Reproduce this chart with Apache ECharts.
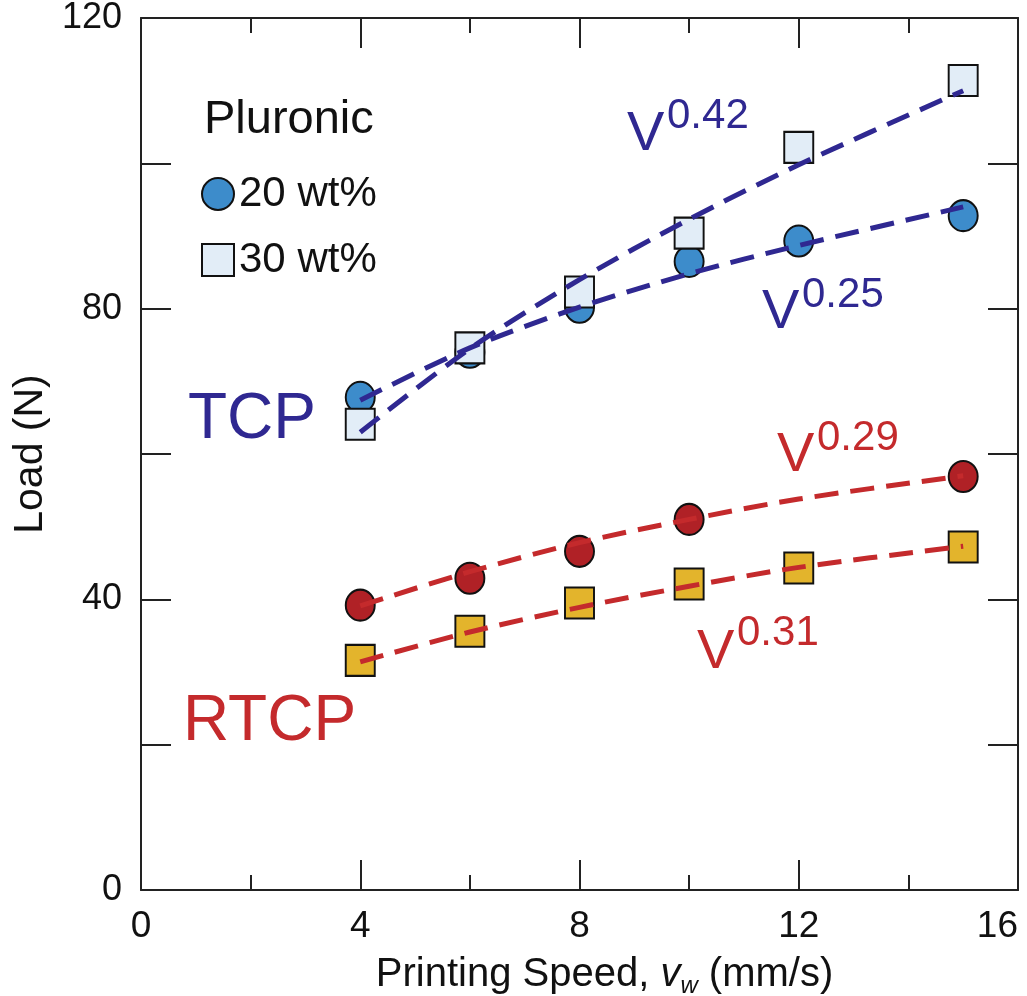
<!DOCTYPE html>
<html><head><meta charset="utf-8">
<script src="https://cdn.jsdelivr.net/npm/echarts@6/dist/echarts.min.js"></script>
<style>html,body{margin:0;padding:0;background:#fff}#c{width:1027px;height:996px}</style>
</head><body><div id="c"></div>
<script>
// ---- data ----
const speeds = [4, 6, 8, 10, 12, 15];
const tcp20 = [67.8, 74.0, 80.2, 86.5, 89.3, 92.8];
const tcp30 = [64.1, 74.6, 82.3, 90.4, 102.2, 111.4];
const rtcp20Speeds = [4, 6, 8, 10, 15];
const rtcp20 = [39.2, 42.9, 46.6, 51.0, 56.9];
const rtcp30 = [31.6, 35.6, 39.5, 42.1, 44.3, 47.2];
// fitted power-law guide lines
const fit042 = [63.0, 74.5, 84.0, 92.3, 99.8, 110.0];
const fit025 = [67.4, 74.6, 80.2, 84.8, 88.7, 94.0];
const fit029 = [39.1, 43.8, 47.8, 51.0, 53.8, 57.0];
const fit031 = [31.4, 35.5, 38.9, 41.8, 44.4, 47.3];
const xTicks = [0, 4, 8, 12, 16];
const yTicks = [0, 40, 80, 120];

const zip = (xs, ys) => xs.map((x, i) => [x, ys[i]]);
const FONT = "'Liberation Sans',Arial,Helvetica,sans-serif";
const BLUE = '#2f2891', RED = '#c42a2c';

const chart = echarts.init(document.getElementById('c'));
const dash = [24, 12];
function fitLine(name, ys, color) {
  return { name, type: 'line', data: zip(speeds, ys), showSymbol: false, smooth: 0.3,
    lineStyle: { color, width: 5, type: dash }, z: 5, silent: true };
}
function scat(name, xs, ys, symbol, fill) {
  return { name, type: 'scatter', data: zip(xs, ys), symbol, symbolSize: [29, 31],
    itemStyle: { color: fill, borderColor: '#111', borderWidth: 2, opacity: 1 }, z: 3 };
}
const axisLineStyle = { color: '#222', width: 2 };
chart.setOption({
  animation: false,
  grid: { left: 141, right: 9, top: 18, bottom: 106, outerBoundsMode: 'none', containLabel: false },
  xAxis: [{
    type: 'value', min: 0, max: 16, interval: 4,
    axisLine: { show: true, lineStyle: axisLineStyle, onZero: false },
    axisTick: { show: true, inside: true, length: 30, lineStyle: axisLineStyle },
    minorTick: { show: true, splitNumber: 2, length: 15, lineStyle: axisLineStyle },
    splitLine: { show: false },
    axisLabel: { margin: 18, fontFamily: FONT, fontSize: 37, color: '#111', alignMaxLabel: 'right',
      formatter: v => xTicks.includes(v) ? String(v) : '' },
    name: '{a|Printing Speed, }{i|v}{s|w}{a| (mm/s)}',
    nameLocation: 'middle', nameGap: 62,
    nameTextStyle: { padding: [0, 0, 0, 50], rich: {
      a: { fontFamily: FONT, fontSize: 40, color: '#111' },
      i: { fontFamily: FONT, fontSize: 40, fontStyle: 'italic', color: '#111' },
      s: { fontFamily: FONT, fontSize: 24, fontStyle: 'italic', color: '#111', padding: [22, 0, 0, 0] }
    } }
  }, {
    type: 'value', min: 0, max: 16, interval: 4, position: 'top',
    axisLine: { show: true, lineStyle: axisLineStyle, onZero: false },
    axisTick: { show: true, inside: true, length: 30, lineStyle: axisLineStyle },
    minorTick: { show: true, splitNumber: 2, length: 15, lineStyle: axisLineStyle },
    splitLine: { show: false }, axisLabel: { show: false }
  }],
  yAxis: [{
    type: 'value', min: 0, max: 120, interval: 20,
    axisLine: { show: true, lineStyle: axisLineStyle, onZero: false },
    axisTick: { show: true, inside: true, length: 30, lineStyle: axisLineStyle },
    splitLine: { show: false },
    axisLabel: { margin: 19, fontFamily: FONT, fontSize: 36, color: '#111',
      formatter: v => yTicks.includes(v) ? String(v) : '' },
    name: 'Load (N)', nameLocation: 'middle', nameGap: 88,
    nameTextStyle: { fontFamily: FONT, fontSize: 41, color: '#111' }
  }, {
    type: 'value', min: 0, max: 120, interval: 20, position: 'right',
    axisLine: { show: true, lineStyle: axisLineStyle, onZero: false },
    axisTick: { show: true, inside: true, length: 30, lineStyle: axisLineStyle },
    splitLine: { show: false }, axisLabel: { show: false }
  }],
  legend: {
    data: ['20 wt%', '30 wt%'], orient: 'vertical', left: 196, top: 168,
    itemWidth: 32, itemHeight: 32, itemGap: 24,
    textStyle: { fontFamily: FONT, fontSize: 42, color: '#111' }
  },
  series: [
    scat('20 wt%', speeds, tcp20, 'circle', '#3d8ccb'),
    scat('30 wt%', speeds, tcp30, 'rect', '#e2edf7'),
    scat('RTCP 20 wt%', rtcp20Speeds, rtcp20, 'circle', '#b02126'),
    scat('RTCP 30 wt%', speeds, rtcp30, 'rect', '#e3b42c'),
    fitLine('fit 0.42', fit042, BLUE),
    fitLine('fit 0.25', fit025, BLUE),
    fitLine('fit 0.29', fit029, RED),
    fitLine('fit 0.31', fit031, RED)
  ],
  graphic: [
    { type: 'text', left: 204, top: 97, style: { text: 'Pluronic', font: `47px ${FONT}`, fill: '#111' } },
    { type: 'text', left: 188, top: 388, style: { text: 'TCP', font: `64px ${FONT}`, fill: BLUE } },
    { type: 'text', left: 183, top: 690, style: { text: 'RTCP', font: `64px ${FONT}`, fill: RED } },
    { type: 'text', left: 627, top: 107, style: { text: 'V', font: `56px ${FONT}`, fill: BLUE } },
    { type: 'text', left: 667, top: 95, style: { text: '0.42', font: `42px ${FONT}`, fill: BLUE } },
    { type: 'text', left: 762, top: 285, style: { text: 'V', font: `56px ${FONT}`, fill: BLUE } },
    { type: 'text', left: 802, top: 274, style: { text: '0.25', font: `42px ${FONT}`, fill: BLUE } },
    { type: 'text', left: 777, top: 428, style: { text: 'V', font: `56px ${FONT}`, fill: RED } },
    { type: 'text', left: 817, top: 417, style: { text: '0.29', font: `42px ${FONT}`, fill: RED } },
    { type: 'text', left: 697, top: 625, style: { text: 'V', font: `56px ${FONT}`, fill: RED } },
    { type: 'text', left: 737, top: 612, style: { text: '0.31', font: `42px ${FONT}`, fill: RED } }
  ]
});
</script></body></html>
